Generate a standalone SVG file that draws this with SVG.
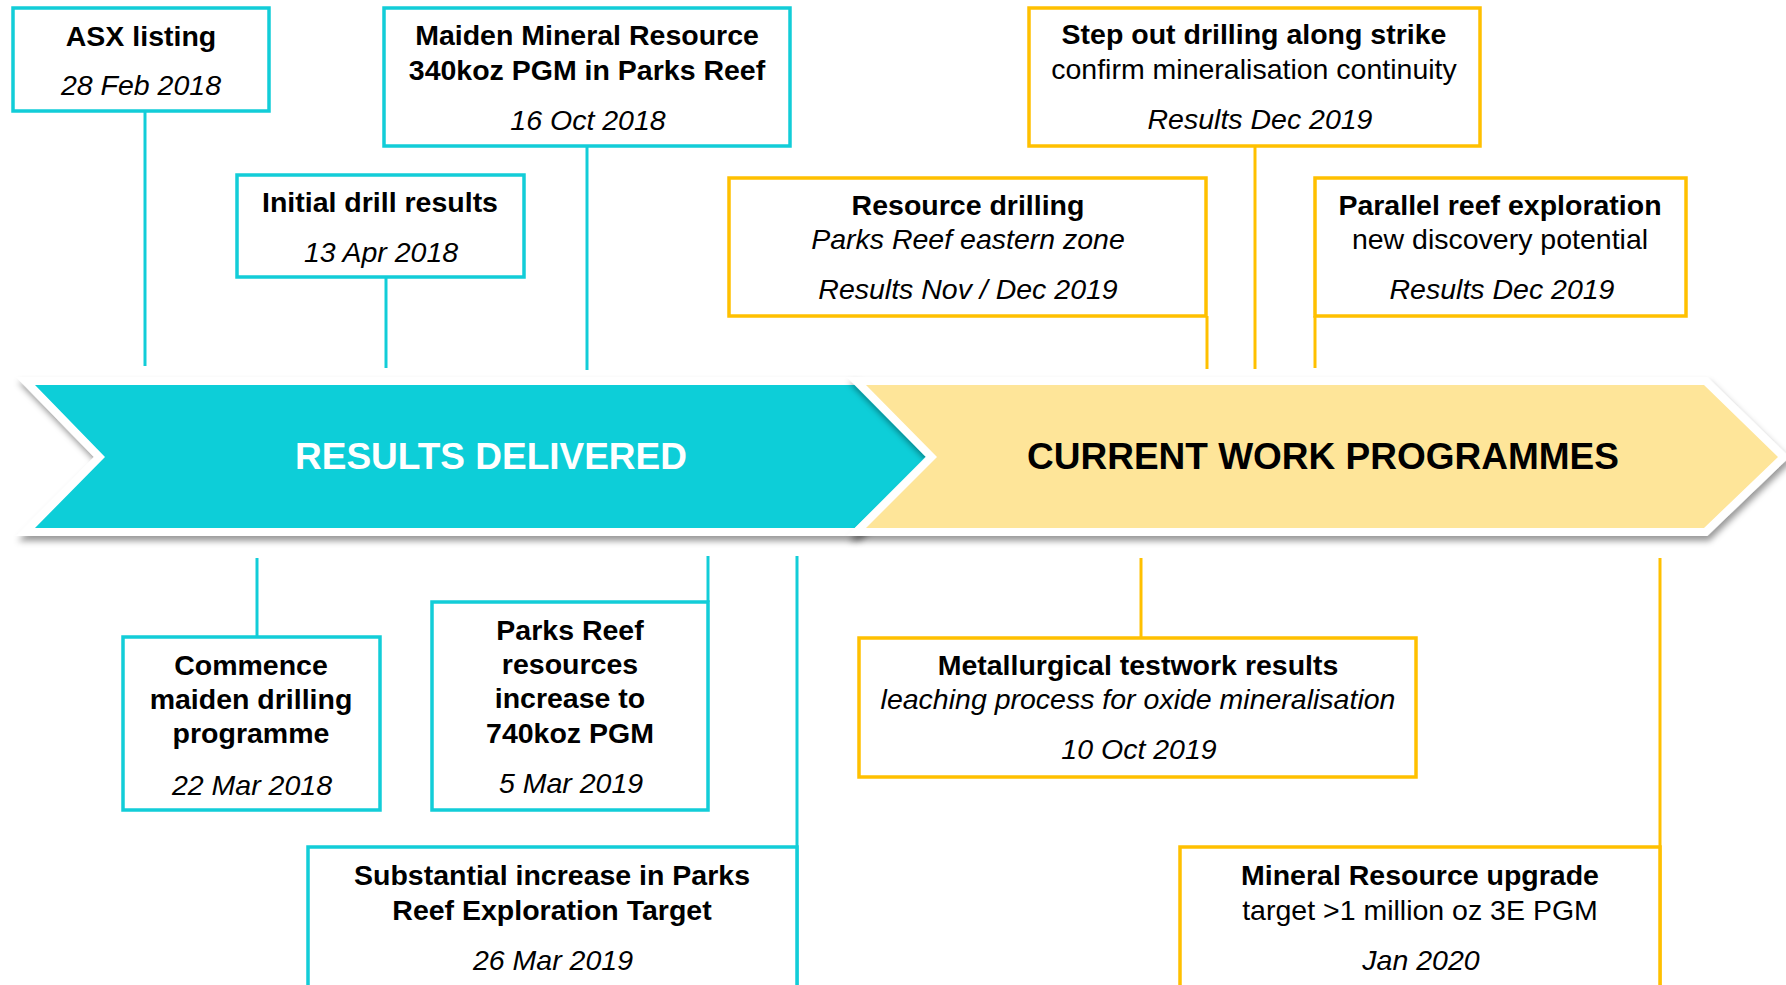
<svg xmlns="http://www.w3.org/2000/svg" width="1786" height="985" viewBox="0 0 1786 985">
  <style>
    text { font-family: "Liberation Sans", Arial, sans-serif; font-size: 28.5px; fill: #000; text-anchor: middle; }
    .b { font-weight: bold; }
    .i { font-style: italic; }
    .band { font-size: 37px; font-weight: bold; }
    .boxT { fill: #fff; stroke: #12CDD8; stroke-width: 3.5; }
    .boxY { fill: #fff; stroke: #FFC000; stroke-width: 3.5; }
    .lnT { stroke: #12CDD8; stroke-width: 3; fill: none; }
    .lnY { stroke: #FFC000; stroke-width: 3; fill: none; }
    .chev { stroke: #fff; stroke-width: 16; stroke-linejoin: miter; paint-order: stroke; filter: url(#shadow); }
  </style>
  <defs>
    <filter id="shadow" x="-5%" y="-20%" width="110%" height="150%">
      <feDropShadow dx="2" dy="5" stdDeviation="3" flood-color="#000" flood-opacity="0.4"/>
    </filter>
  </defs>

  <rect width="1786" height="985" fill="#fff"/>

  <!-- timeline band -->
  <g id="band">
    <path class="chev" fill="#0CCED8" d="M35,385 L855,385 L928,457 L855,528 L35,528 L105,457 Z"/>
    <path class="chev" fill="#FEE599" d="M866,385 L1704,385 L1778,457 L1704,528 L866,528 L937,457 Z"/>
    <text class="band" x="491" y="469" style="fill:#fff">RESULTS DELIVERED</text>
    <text class="band" x="1323" y="469">CURRENT WORK PROGRAMMES</text>
  </g>

  <!-- connectors -->
  <g id="connectors">
    <line class="lnT" x1="145" y1="110" x2="145" y2="366"/>
    <line class="lnT" x1="386" y1="276" x2="386" y2="368"/>
    <line class="lnT" x1="587" y1="146" x2="587" y2="370"/>
    <line class="lnY" x1="1207" y1="316" x2="1207" y2="369"/>
    <line class="lnY" x1="1255" y1="146" x2="1255" y2="369"/>
    <line class="lnY" x1="1315" y1="316" x2="1315" y2="368"/>
    <line class="lnT" x1="257" y1="558" x2="257" y2="637"/>
    <line class="lnT" x1="708" y1="556" x2="708" y2="602"/>
    <line class="lnT" x1="797" y1="556" x2="797" y2="985"/>
    <line class="lnY" x1="1141" y1="558" x2="1141" y2="638"/>
    <line class="lnY" x1="1660" y1="558" x2="1660" y2="985"/>
  </g>

  <!-- milestones above the band -->
  <g id="asx-listing">
    <rect class="boxT" x="13" y="8" width="256" height="103"/>
    <text class="b" x="141" y="46">ASX listing</text>
    <text class="i" x="141" y="95">28 Feb 2018</text>
  </g>
  <g id="initial-drill">
    <rect class="boxT" x="237" y="175" width="287" height="102"/>
    <text class="b" x="380" y="212">Initial drill results</text>
    <text class="i" x="381" y="262">13 Apr 2018</text>
  </g>
  <g id="maiden-resource">
    <rect class="boxT" x="384" y="8" width="406" height="138"/>
    <text class="b" x="587" y="45">Maiden Mineral Resource</text>
    <text class="b" x="587" y="80">340koz PGM in Parks Reef</text>
    <text class="i" x="588" y="130">16 Oct 2018</text>
  </g>
  <g id="resource-drilling">
    <rect class="boxY" x="729" y="178" width="477" height="138"/>
    <text class="b" x="968" y="215">Resource drilling</text>
    <text class="i" x="968" y="249">Parks Reef eastern zone</text>
    <text class="i" x="968" y="299">Results Nov / Dec 2019</text>
  </g>
  <g id="step-out">
    <rect class="boxY" x="1029" y="8" width="451" height="138"/>
    <text class="b" x="1254" y="44">Step out drilling along strike</text>
    <text x="1254" y="79">confirm mineralisation continuity</text>
    <text class="i" x="1260" y="129">Results Dec 2019</text>
  </g>
  <g id="parallel-reef">
    <rect class="boxY" x="1315" y="178" width="371" height="138"/>
    <text class="b" x="1500" y="215">Parallel reef exploration</text>
    <text x="1500" y="249">new discovery potential</text>
    <text class="i" x="1502" y="299">Results Dec 2019</text>
  </g>

  <!-- milestones below the band -->
  <g id="commence-drilling">
    <rect class="boxT" x="123" y="637" width="257" height="173"/>
    <text class="b" x="251" y="675">Commence</text>
    <text class="b" x="251" y="709">maiden drilling</text>
    <text class="b" x="251" y="743">programme</text>
    <text class="i" x="252" y="795">22 Mar 2018</text>
  </g>
  <g id="parks-reef-increase">
    <rect class="boxT" x="432" y="602" width="276" height="208"/>
    <text class="b" x="570" y="640">Parks Reef</text>
    <text class="b" x="570" y="674">resources</text>
    <text class="b" x="570" y="708">increase to</text>
    <text class="b" x="570" y="743">740koz PGM</text>
    <text class="i" x="571" y="793">5 Mar 2019</text>
  </g>
  <g id="exploration-target">
    <rect class="boxT" x="308" y="847" width="489" height="160"/>
    <text class="b" x="552" y="885">Substantial increase in Parks</text>
    <text class="b" x="552" y="920">Reef Exploration Target</text>
    <text class="i" x="553" y="970">26 Mar 2019</text>
  </g>
  <g id="metallurgical">
    <rect class="boxY" x="859" y="638" width="557" height="139"/>
    <text class="b" x="1138" y="675">Metallurgical testwork results</text>
    <text class="i" x="1138" y="709">leaching process for oxide mineralisation</text>
    <text class="i" x="1139" y="759">10 Oct 2019</text>
  </g>
  <g id="resource-upgrade">
    <rect class="boxY" x="1180" y="847" width="480" height="160"/>
    <text class="b" x="1420" y="885">Mineral Resource upgrade</text>
    <text x="1420" y="920">target &gt;1 million oz 3E PGM</text>
    <text class="i" x="1421" y="970">Jan 2020</text>
  </g>
</svg>
